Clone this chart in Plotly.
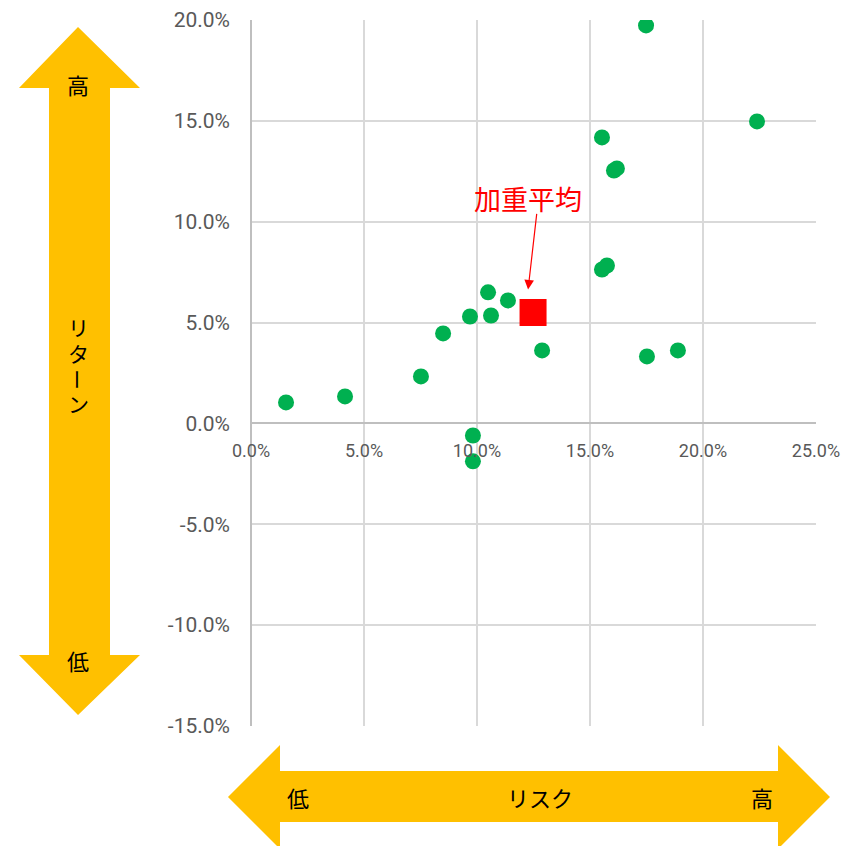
import plotly.graph_objects as go

# Data (percent)
risk = [1.55, 4.16, 7.52, 8.50, 9.69, 9.82, 9.82, 10.49, 10.62, 11.37, 12.88,
        15.53, 15.53, 15.75, 16.06, 16.19, 17.48, 17.52, 18.89, 22.39]
ret = [1.04, 1.34, 2.33, 4.46, 5.30, -0.60, -1.88, 6.50, 5.35, 6.10, 3.62,
       14.18, 7.63, 7.83, 12.54, 12.64, 19.73, 3.32, 3.62, 14.97]
avg_risk = [12.48]
avg_ret = [5.50]
avg_label = "加重平均"
x_ticks = [0, 5, 10, 15, 20, 25]
y_ticks = [20, 15, 10, 5, 0, -5, -10, -15]

W, H = 851, 846
L, R, T, B = 251, 816, 20, 726

def px(x, y):
    return (x - L) / (R - L), (B - y) / (B - T)

def path(pts):
    s = ""
    for i, (x, y) in enumerate(pts):
        a, b = px(x, y)
        s += ("M" if i == 0 else "L") + f"{a:.5f},{b:.5f} "
    return s + "Z"

GOLD = "#FFC000"
JP = "Noto Sans CJK JP"

fig = go.Figure()
fig.add_trace(go.Scatter(x=risk, y=ret, mode="markers",
                         marker=dict(color="#00B050", size=16, line=dict(width=0)),
                         showlegend=False))
fig.add_trace(go.Scatter(x=avg_risk, y=avg_ret, mode="markers",
                         marker=dict(color="#FF0000", symbol="square", size=27, line=dict(width=0)),
                         showlegend=False))

# vertical double arrow
v_pts = [(78, 27), (140, 88), (110, 88), (110, 655), (140, 655), (78, 715),
         (19, 655), (49, 655), (49, 88), (19, 88)]
# horizontal double arrow
h_pts = [(228, 797), (280, 745), (280, 771), (778, 771), (778, 745), (830, 797),
         (778, 849), (778, 822), (280, 822), (280, 849)]
shapes = [
    dict(type="path", xref="paper", yref="paper", path=path(v_pts),
         fillcolor=GOLD, line=dict(width=0), layer="below"),
    dict(type="path", xref="paper", yref="paper", path=path(h_pts),
         fillcolor=GOLD, line=dict(width=0), layer="below"),
]

annotations = []
def txt(t, x, y, size=22, angle=0, color="black"):
    a, b = px(x, y)
    annotations.append(dict(text=t, x=a, y=b, xref="paper", yref="paper",
                            showarrow=False, xanchor="center", yanchor="middle",
                            textangle=angle,
                            font=dict(family=JP, size=size, color=color)))

txt("高", 78, 84)
txt("低", 78, 660)
for ch, yy in zip(["リ", "タ", "ー", "ン"], [327, 353, 379, 403]):
    txt(ch, 78, yy, size=21, angle=90 if ch == "ー" else 0)
txt("低", 298, 797)
txt("リスク", 540, 797)
txt("高", 762, 797)

# weighted average label + arrow
annotations.append(dict(text=avg_label, x=12.26, y=11.15, xref="x", yref="y",
                        showarrow=False, font=dict(family=JP, size=27, color="#FF0000")))
annotations.append(dict(text="", x=12.26, y=6.64, ax=12.65, ay=10.46,
                        xref="x", yref="y", axref="x", ayref="y",
                        showarrow=True, arrowhead=2, arrowsize=1.6, arrowwidth=1.2,
                        arrowcolor="#FF0000"))

xfont = dict(family="Roboto, sans-serif", size=18, color="#595959")
yfont = dict(family="Roboto, sans-serif", size=21, color="#595959")
fig.update_layout(
    width=W, height=H,
    margin=dict(l=L, r=W - R, t=T, b=H - B),
    paper_bgcolor="white", plot_bgcolor="white",
    shapes=shapes, annotations=annotations,
    xaxis=dict(range=[0, 25], tickvals=x_ticks,
               ticktext=[f"{v:.1f}%" for v in x_ticks],
               showgrid=True, gridcolor="#D9D9D9", gridwidth=1.5,
               zeroline=True, zerolinecolor="#BFBFBF", zerolinewidth=1.5,
               anchor="free", position=15 / 35, ticks="", automargin=False,
               ticklabelstandoff=15,
               tickfont=xfont, showline=False, fixedrange=True),
    yaxis=dict(range=[-15, 20], tickvals=y_ticks,
               ticktext=[f"{v:.1f}%" for v in y_ticks],
               showgrid=True, gridcolor="#D9D9D9", gridwidth=1.5,
               zeroline=True, zerolinecolor="#BFBFBF", zerolinewidth=1.5,
               ticks="", ticklabelstandoff=20, automargin=False,
               tickfont=yfont, showline=False, fixedrange=True),
)

fig.write_html("out.html", config={"displayModeBar": False},
               post_script="document.body.style.margin='0';document.body.style.overflow='hidden';")
